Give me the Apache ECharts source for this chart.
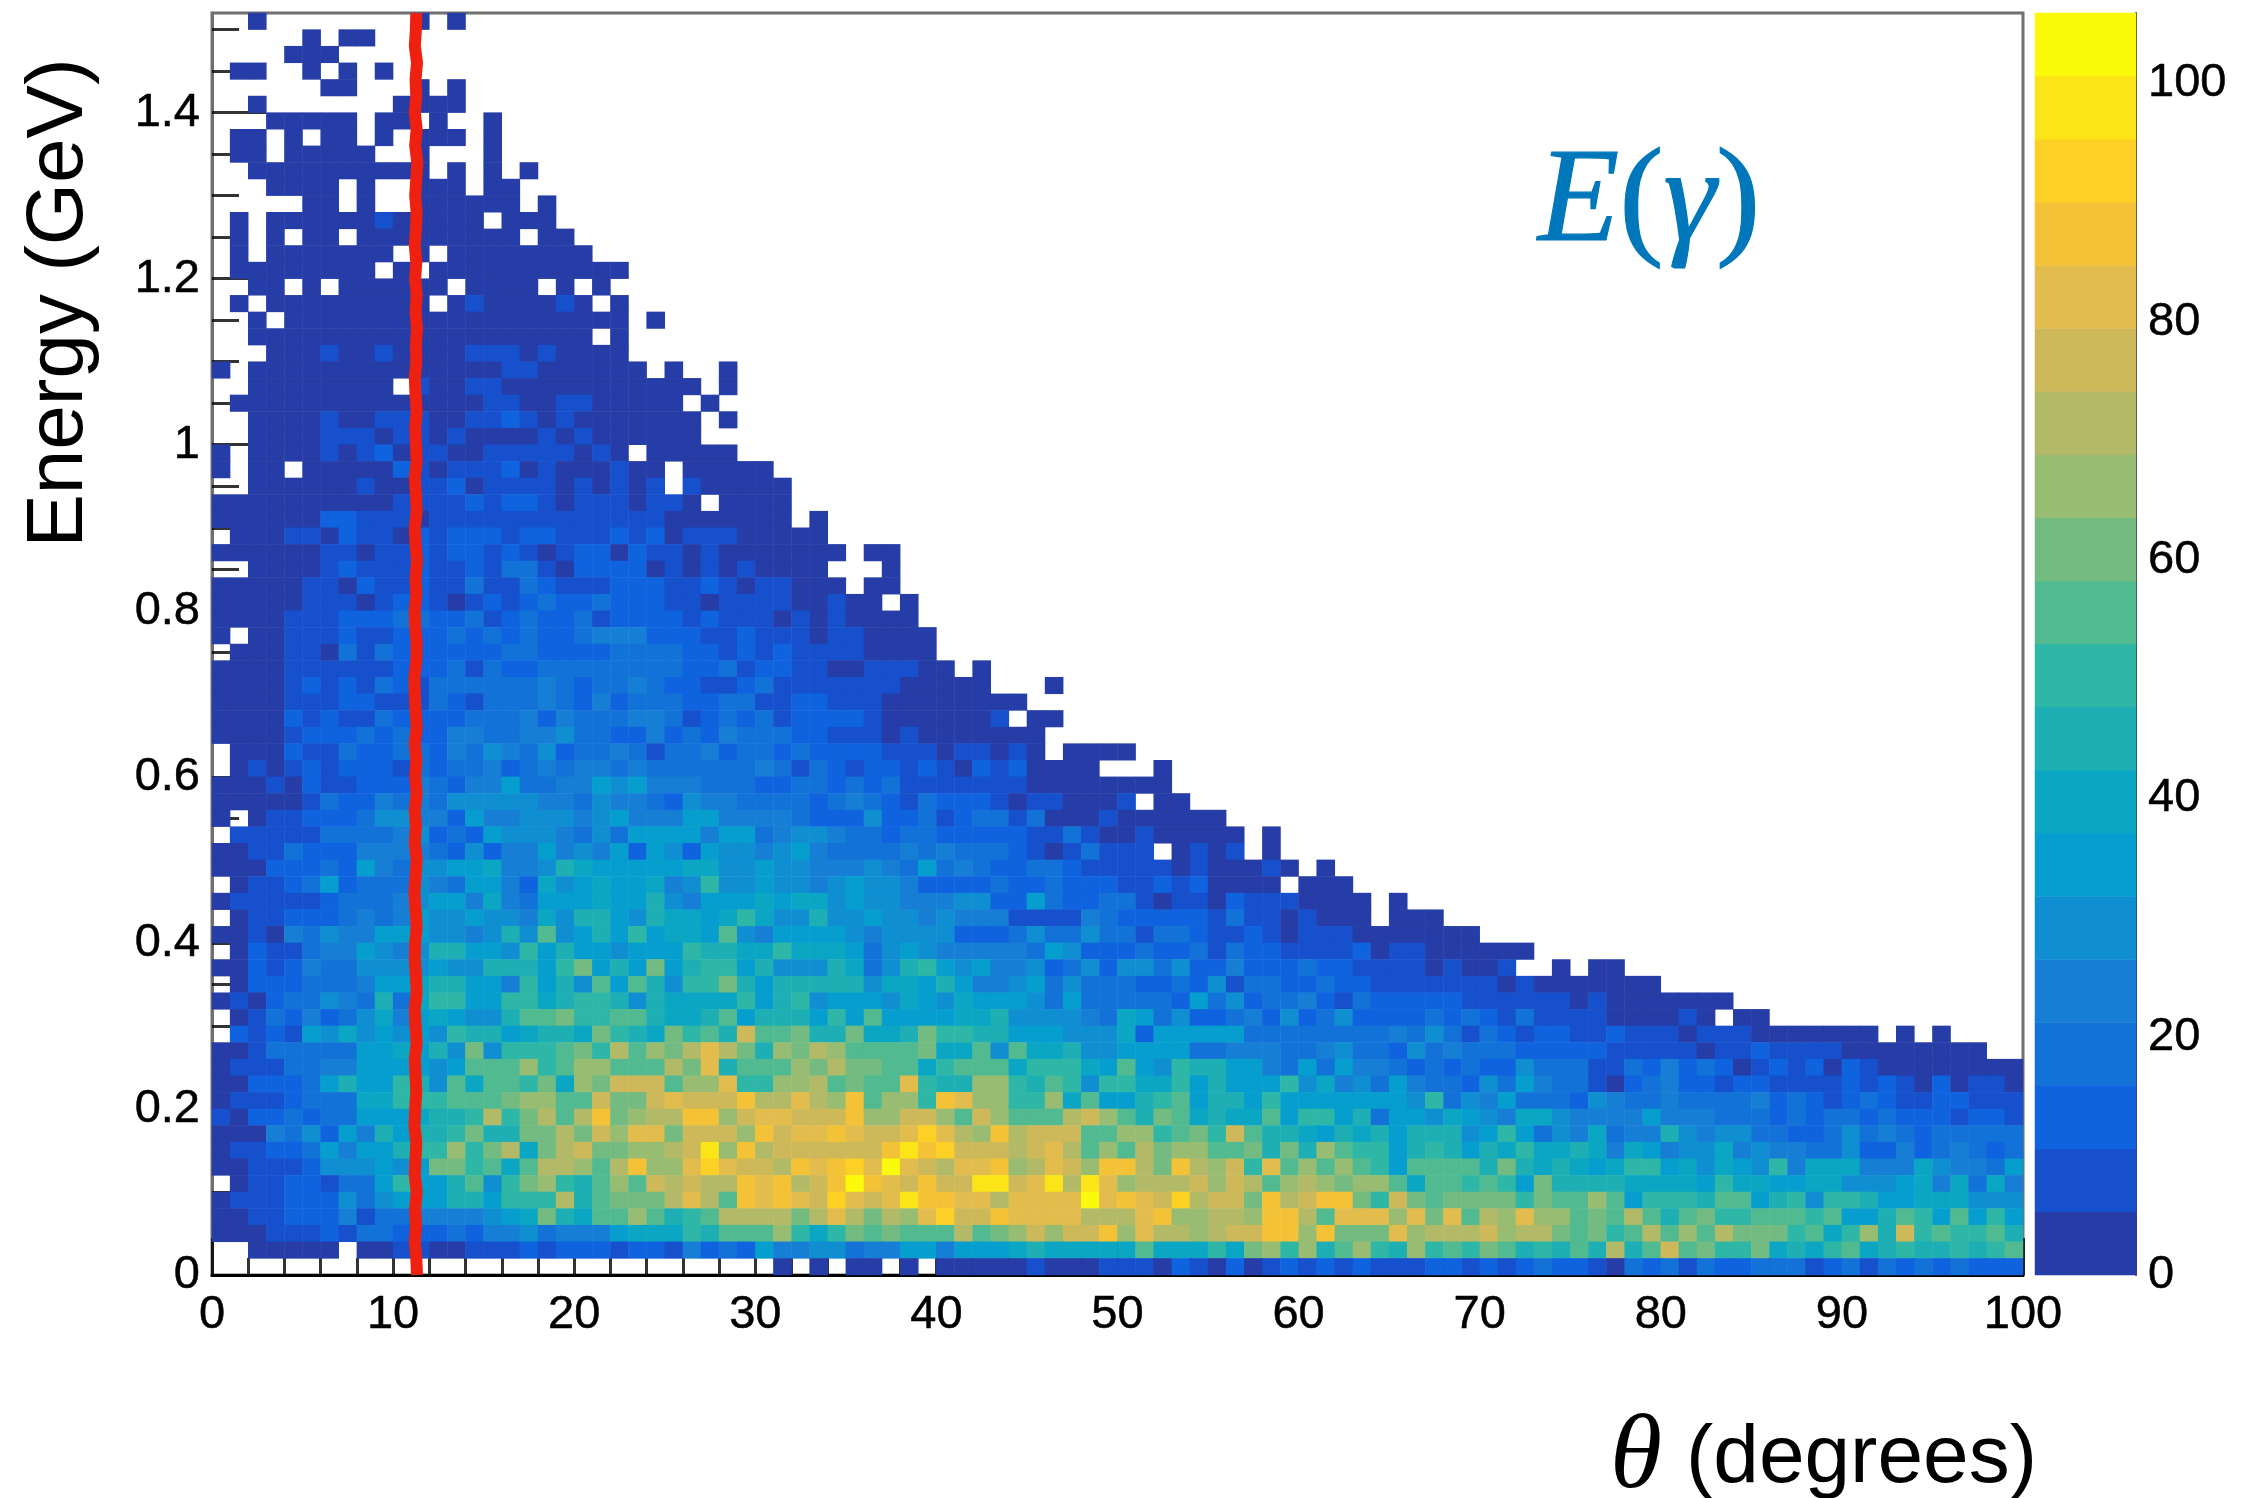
<!DOCTYPE html>
<html>
<head>
<meta charset="utf-8">
<style>html,body{margin:0;padding:0;background:#fff}#c{width:2256px;height:1498px}#c canvas{filter:blur(0.7px)}</style>
<script src="https://cdn.jsdelivr.net/npm/echarts@6/dist/echarts.min.js"></script>
</head>
<body>
<div id="c"></div>
<script>
// Histogram bins. One string per energy row, top row (1.50-1.52 GeV) first.
// Each character is the colour band of one theta bin: '.' empty, 0-9 then a-j for bands 0..19.
// '|' separates blocks of 25 bins; spaces are only for reading.
const bandLevelRows = [
"..0........0.0",
".....0.00",
"....000",
".00..0.0.0",
"......00...0.0",
"..0.......0000",
"...00000.00.0..0",
".00.0.00.0.000.0",
".00.00000..0...0",
"..0000000000.0.0.0",
"...0000.0..000.00",
".....00.0..000000.0",
".0.000000100000.000",
".0.0.00.000000000.00",
".0.0000000.0.00000000",
".00000000.0.00000000000",
"..00.0.000000.0000.0.0",
".0.000000000.01000010.0",
"..0.0000000000000000000.0",
"..0000000000000000000.0",
"...00010010000111010000",
"0.00000000000000 11000000.|0..0",
"..00000000.10011 000000000|00.0",
".00000000000000 110011 0000|0.0",
"..0000 1 00 111 00 11 2 1 0 1 00000|00.0",
"..0000 111 0 11 0 1 0000 1 0 1 0000|00",
"0.0000 1012 0 11 00 11111 0 1 0 . 0|0000",
"0.00.00000 2 1 0 111 2 0 1 000 1 00|.00000",
"..000000 1 00 11 2 0 1111 0 1 0 1 0 1|.100000",
"0000000000 1111 2 1 22 1 0 111 0 1|10.0000",
"000000 22 111 0 1111111111111|0000000.0",
".000 11 0 2 11 0 2 1 222 1 22 111 2 1 2|0111 00000",
"000000 11 0 11 2 1 22 1 2 1 0 1 22 0 2 1|101 0000000 . 00",
"..0000 12 111 2 11 2 1 33 1 0 2222 0|10101 0000 ... 0",
"00000 11 0 2 11 2 11 3 11 3 2 111 222|11210 11 000 . 00",
"00000 111 0 1 22 1 0 1 2 1 2 3 22 3 222|110 1111 00 1 00 . 0",
"0000 111 222 33 22 3 1 2 3 22 3 1 222|212 111 0 1 0 1 0000",
"0 . 00 111 2 11 222 3 2 3 2 3 22 3 444 2|22 11 2 111 0 11 0000",
". 000 11 0 3 1 3 222222 33 2222 333|3 22 1 2 1 2 1111 0000",
"0000 111111 222 3 1 3 22 3333333|3 22 3 1 22 11 00 111 00 . 0",
"0000 1 2 1 2 1 3 2 1 333333 4 3 2 33 4 3|22 11 2 3 1111111 00000 ... 0",
"0000 111 22 111 3 2 1 333 4 3 2 4 2 33|3 22 33 11 22 111 00000000",
"0000 2 1 2 11 3 2222 333 4 2 4 333 4 4|312323 1 2222 1 000000 1 . 00",
"0000 1 222 3 2 3 22 44 33 44 5 33 22 4|2324 333 22 111 0 1 0000000",
". 000 2 11 3 22 33 2 4 3 5 4 3 5 2 33 4 3 1|33 4 2 33 2 3 2222 111 0 11 0 1 0 . 000|0",
". 0 1 0 1 2 1 222 1 3 2 33 4 2 3 4 3 44 3 4 3|33333 4 3 1 3 2 1 22 1 2 1 0 2 1 2 0000 .|..0",
"000 1 0 2 11 222 4 3 2 44 6 33 44 6 5 6 4|44 333 22 33 2 3 2 3 1111111 00000|000",
"00000 1 3 22 4 3 4 3 55555 44 3 5 44 3|2 5 44 3333 2 3 4 3 2 1 3 222 1 0 11 000|1 . 00",
"0 . 0 11 222 3 55 44 2 6 44 555 4 5 6 44|4 66 4444 3 222 5 22 3 1 2 33 1 3 000 1|000000",
". 11111 3333 4 5 2 3 2 6 555 4 3 5 3 66|66 4 66 3 4 55 4 33 2 33 22222 11 3 1 0|0 1 00000 . 0",
"00 11 3 222 4444 3 2 5 2 44 6 4 5 4 6 2 6|5 2 6 55 4 5 6 4 3333 4 3 4 333 2 1 0 1 3 1|11 . 0 1 0 1 . 0",
"000 222 3 2 6 4 3 55 66 7 44 5 8 7 6666|6 77 55 6 55 444 5 4 3 6 3 4 3 22 33 2 11|111 0 1 000 1 0 . 0",
". 0 11 2 3 6 2 333 5 4 3 66 4 2 7 5 6 7 66 7|4 5 9 55 6 55 4 5 6 55 4 2222 3 22 3 222|11 2 1 2 0000 . 000",
"0 11111 2 333 4 5 66 4 7 4 3 666 7 66 8|5 4 666 7 6 77 5 6 55 444 55 22 6 3 22 3|3 1 0 11 0 2 111 0000 . 0",
". 0 11 222 3 4 3 4 6 55 6 55 4 7 5 88 6 5 8|77 6 7 9 7 55 8 55 6 55 4 5 444 1111 4 3|22222 1 3 11 0 1 000 . 000",
"00 1 0 4 3 5 44 666 55 4 5 8 5 a 5 6 8 6 9 6|77 6 a 5 4 6666 5 4 5555 222 3 5 33 5 3|3 1 33 2 11 2 1 0 111 0000000",
". 0 2 11 3 44 6 5 4 5 88 66 5 9 6 8 66 5 66|6 9 88 77 9 777 6 3 5 6 5 44444 3 6 5 22|2 3 2 2 3 1 3 22 1111 2 0 11 000000",
"00 2 1 2 4 33 5555 6 55 888 6 9 b 6 8 6 b|6 8 99 6 8 555 8 7 3 5 8 9 6 5 6 44 5 2 3 5 2|55 3 5 22 4 222 3 22 1111 0 1 00 1 .. 0|. 00",
". 0 222 333 4 66 7 88 66 4 9 6 8 5 a 6 a 8|5 99 b 8 6 88888 5 77 6 8 6 44 5 6 3 5 33|3 22 3 2 5 1 33 22 3 22 111 1111 0 1 00|00000",
"0 1 0 2 33 5 4 3 8 3 7 99 66 99 7 8 99 8 5 8|7777 9 6 8 9 5 666 5 7 6 5 7 666 5 3 6 33|333 2 6 3 5 2 33 4 2 1 3 22222 111111|0 1 0000000",
". 0 1 3 2 4 2 3 5 7 4 6 7 6 55 8 aa b 99 aa 8|77 8 a 6 888 6 9 6 a 6666 77 8 5555 4 3|7 6 3 5 22 3 4 2 5 2 3 5 2222 3 2 3 2 1 3 11|11 0000 1 0 . 00",
". 2 1 2 1 6 5 7 5 6 5 6 5 9 88 6 7 88 7 b 9 8 7|b 9 a 8 e aa b 88 b 77 8 b 99 88 666 555|7 2 66666 33333333 4 3 5 3 1 3 2 1 22|11 2 111 0 111 0000000 . 0 . 0",
"00 1 33333 6 6 7 6 8 5 b 5 999 a b 9 d a c|b d f d b 8 c b d c aaaa b 77 a 5 a 77 8 55|6666 33 4 44 33 4 5 33 2 5 3 4 333 222|22 11111 0 11 2 1111 00000000",
"0 111 33 44 6666 5 6 aaa c 9 a cc aaa|d b f 8 aaa c b d bb aa 7 9 aaa 7 999 7 6|a 6 5 9 88 66 4 3 6 3 6 44 3 2 3 2 3 22 5 33|3 11 3 2 4 2 3 2 0 1 2 1 2 0 2 1 00000000",
"00 222 3 6 8 66 9 8 5 a 7 aa 9 b 7 c b eee|a cc f 99 cc d a b aa f 9 88 cc 9 8 a 9 5 9|9 77 9 6 8 666 9 5 7 4 5 3 6 4 33 2 5 3 6 4 3|3 1 0 2 3 4 22 1 22 1111 2 1 2 1 0 2 0 11 0",
"0 111 2 333 77 999 aaa b cc aa e bb e|f eee g dd f d c g a cc 9 g f cc 99 c 7 a 6|6 8 9 a 6 88 6 9 6666666 5 9 3 5 4 6 333|2 5 4 33 4 3333 4 2 3 2 1 2 3 2 11 22 111",
"1 0 22 3 2 33 666 7 88 9 d 9 b d a d g b c d|d gg c e ff eee g cc ee c a e c aaa d e c|a 8 b a 7 8 77 a 6 99 6 8 3 66 5 7 6 5 4 77 5|4444 6 444 333 2 3 2 33 2 3 222 1 22 1",
"000 4 3 5 2 6 4 8 6 88 9 b 88 bb d b e c ff|b eee c g e ff g f ee f h f d c g d eee aa|cc 9 a b 9 e a 88 7 6 8 7 8 6 888 5 6 9 6 3 5|4 7 3 44 8 5 4 55 33 22 3 5 3 4 3 2 33333",
"0 11 22 3 6 4 66 8 99 c 9 b d 7 b d e bb cc|d e i c g d eeeeee g i g h eee d e f d a c|a d b cc aa b 8 b 8 c a 99 6 8 9 8 6 8 7 9 77|8 7 4 7 6 4 55 7 4 5 44 33 5 22 4 2 3 4 3 2 3",
"00 111 2 555 6 5 6 bb 9 a 7 a dd c a d g c|c f h f ee d g f g h f j f e d ff g c d f e c g|g d b g d c e 9 f a c a c a 9 6 aaaa 8 b 8 7 8|7 6 7 99 6 7 5 7 6 5 9 4 777 444 7 5 44 3 6",
". 0 11 22 1 33 6 9 66 8 a 5 9 b c 9 8 a c a e|d e dd g f g d e g j g f e g ee ii e f i d i f|c ddd e c e d a c d c b cc a 7 aa 9 a 9 6 b 8|888 7777 6 9 77 66 77 555 6 7 4 7 3 7 4",
"0 111 222 5 3 5 666 88 6 999 d 8 a bbb|d f d a g f g f e h f e f i gg ff d ffff j f|g f e h d ee b g d e gg b 9 e b a bbbb 9 b a|a c a 6 999 8 aa 6 8 9 5 99 8 66 777 555",
"00 11 222 4 1 33 4444 5 6 7 b 8 7 aa c a|8 9 a dddd b d f d b d c f h ee g ffff dd|d f g cc dd c gg d a fff c f b f a d c f cc|a b a d a 8 a b 99 aaa 9 a 66 8 a 9 6 a 6 9 6",
"000 111 2 1 33 222 3 2 44 5 3 444 6 77|7 9 8 aaa c 9 7 9 b a b aaa d a b c e c ee g|c f dd c d ee gg c g bbb f c ddd e c dd b|a b 9 a d a c a d bbb 9 a 7 9 c 8 e 9 a 99 a 8",
"..00000.00110011121222122|1 4 2 3 2 6 44 55 3 44 66 4 666 7 8 77 77|7 a 777 9 7 b c 9 c 8 a c 9 8 c 9 a 9 b a 8 9 8|a 8 d 8 a e a b 99 b 7 8 7 9 a 7 8 9 88 9 8 9 a",
"|...... 0 . 0 . 00 . 0 . 00000 1 000 1|11 0 2 1 0 2 0 1 2 1 2 1 2 111 22 1 2 1 2 3 2|2 1 0 3 2 3 1 3 22 333 1 2 3 1 3 2 3 2 3 2 22"
];
// Colours of the scale's bands, low to high, and the scale's top value.
const bandColors = ["#263CA6","#1650CC","#0F63DF","#1272D8","#167FD5","#0F8FD2","#059ECE","#0AA6C4","#1EAFB5","#2EB7A7","#52BA91","#73BB80","#98BC72","#B2BA68","#CDB95A","#E2BC4C","#F4C236","#FDD026","#FBE519","#FAFA0A"];
const colorScaleMax = 105.9;
const energyMajorTicks = [0,0.2,0.4,0.6,0.8,1,1.2,1.4];
const energyMinorTicks = [0.05,0.1,0.15,0.25,0.3,0.35,0.45,0.5,0.55,0.65,0.7,0.75,0.85,0.9,0.95,1.05,1.1,1.15,1.25,1.3,1.35,1.45,1.5];
const colorBarLabels = [0,20,40,60,80,100];
const colorBarTicks = [20,40,60,80,100];
// Thick red line near theta = 11.3 deg, with its small wobble, one point every 0.02 GeV.
const redLineEnergy = [0,0.02,0.04,0.06,0.08,0.1,0.12,0.14,0.16,0.18,0.2,0.22,0.24,0.26,0.28,0.3,0.32,0.34,0.36,0.38,0.4,0.42,0.44,0.46,0.48,0.5,0.52,0.54,0.56,0.58,0.6,0.62,0.64,0.66,0.68,0.7,0.72,0.74,0.76,0.78,0.8,0.82,0.84,0.86,0.88,0.9,0.92,0.94,0.96,0.98,1,1.02,1.04,1.06,1.08,1.1,1.12,1.14,1.16,1.18,1.2,1.22,1.24,1.26,1.28,1.3,1.32,1.34,1.36,1.38,1.4,1.42,1.44,1.46,1.48,1.5,1.52];
const redLineTheta = [11.32,11.28,11.2,11.26,11.22,11.3,11.2,11.24,11.28,11.18,11.22,11.28,11.24,11.2,11.3,11.24,11.2,11.3,11.26,11.2,11.22,11.3,11.24,11.18,11.24,11.3,11.2,11.26,11.2,11.3,11.22,11.28,11.2,11.3,11.24,11.2,11.18,11.28,11.3,11.22,11.2,11.28,11.24,11.32,11.24,11.2,11.3,11.26,11.2,11.3,11.26,11.22,11.3,11.24,11.2,11.28,11.26,11.32,11.24,11.3,11.22,11.28,11.2,11.26,11.3,11.22,11.28,11.34,11.22,11.3,11.2,11.28,11.24,11.32,11.2,11.26,11.28];

const BAND = colorScaleMax / bandColors.length;
const nX = 100, nY = 76;
const cells = [];
bandLevelRows.forEach((row, t) => {
  const s = row.split('|').map(b => b.replace(/ /g, '').padEnd(25, '.')).join('');
  for (let i = 0; i < nX && i < s.length; i++) {
    if (s[i] === '.') continue;
    cells.push([i, nY - 1 - t, (parseInt(s[i], 36) + 0.5) * BAND]);
  }
});
const bandCells = bandColors.map((_, k) => [0, k, (k + 0.5) * BAND]);
const pieces = bandColors.map((color, k) => ({ gte: k * BAND, lt: (k + 1) * BAND, color }));

const FONT = 'Liberation Sans';
const SERIF = 'Liberation Serif';
const tickBlack = 'rgba(0,0,0,0.8)';
const label = { fontFamily: FONT, fontSize: 47, color: '#000', textBorderColor: '#000', textBorderWidth: 0.5 };

const chart = echarts.init(document.getElementById('c'), null, { renderer: 'canvas' });
chart.setOption({
  animation: false,
  backgroundColor: '#fff',
  grid: [
    { left: 212, top: 13, width: 1811, height: 1262, show: true, borderColor: '#707070', borderWidth: 3, backgroundColor: 'transparent' },
    { left: 2035, top: 13, width: 101, height: 1262 }
  ],
  xAxis: [
    { type: 'category', gridIndex: 0, show: false, data: Array.from({length: nX}, (_, i) => i) },
    { type: 'value', gridIndex: 0, position: 'bottom', min: 0, max: 100, interval: 10,
      axisLine: { show: true, onZero: false, lineStyle: { color: '#000', width: 3 } },
      axisTick: { show: true, inside: true, length: 37, lineStyle: { color: tickBlack, width: 3 } },
      minorTick: { show: true, splitNumber: 5, length: 17, lineStyle: { color: tickBlack, width: 3 } },
      splitLine: { show: false },
      axisLabel: { ...label, margin: 17, formatter: v => String(v), showMinLabel: true, showMaxLabel: true, hideOverlap: false } },
    { type: 'category', gridIndex: 1, show: false, data: [0] }
  ],
  yAxis: [
    { type: 'category', gridIndex: 0, show: false, data: Array.from({length: nY}, (_, j) => j) },
    { type: 'value', gridIndex: 0, position: 'left', min: 0, max: 1.52,
      axisLine: { show: true, onZero: false, lineStyle: { color: '#707070', width: 3 } },
      axisTick: { show: true, inside: true, length: 54, customValues: energyMajorTicks, lineStyle: { color: tickBlack, width: 3 } },
      splitLine: { show: false },
      axisLabel: { ...label, margin: 12, padding: [12, 0, 0, 0], customValues: energyMajorTicks, formatter: v => String(v) } },
    { type: 'value', gridIndex: 0, position: 'left', min: 0, max: 1.52,
      axisLine: { show: false },
      axisTick: { show: true, inside: true, length: 27, customValues: energyMinorTicks, lineStyle: { color: tickBlack, width: 3 } },
      splitLine: { show: false },
      axisLabel: { show: false } },
    { type: 'category', gridIndex: 1, show: false, data: bandColors.map((_, k) => k) },
    { type: 'value', gridIndex: 1, position: 'right', min: 0, max: colorScaleMax,
      axisLine: { show: true, onZero: false, lineStyle: { color: 'rgba(0,0,0,0.75)', width: 2 } },
      axisTick: { show: true, inside: true, length: 53, customValues: colorBarTicks, lineStyle: { color: tickBlack, width: 3 } },
      splitLine: { show: false },
      axisLabel: { ...label, margin: 12, padding: [12, 0, 0, 0], customValues: colorBarLabels, formatter: v => String(v) } }
  ],
  visualMap: { type: 'piecewise', show: false, seriesIndex: [0, 1], dimension: 2, pieces },
  series: [
    { type: 'heatmap', name: 'E(gamma)', xAxisIndex: 0, yAxisIndex: 0, data: cells, progressive: 0, z: 1 },
    { type: 'heatmap', name: 'colour scale', xAxisIndex: 2, yAxisIndex: 3, data: bandCells, progressive: 0, z: 1 },
    { type: 'line', name: 'red line', xAxisIndex: 1, yAxisIndex: 1, showSymbol: false, clip: false, z: 5,
      lineStyle: { color: '#EE2010', width: 12 },
      data: redLineEnergy.map((e, k) => [redLineTheta[k], e]) }
  ],
  graphic: [
    { type: 'text', x: 60, y: 303, rotation: Math.PI / 2, z: 10,
      style: { text: 'Energy (GeV)', fontFamily: FONT, fontSize: 80, fill: '#000', align: 'center', verticalAlign: 'middle' } },
    { type: 'text', x: 1610, y: 1459, z: 10,
      style: { text: 'θ', fontFamily: SERIF, fontStyle: 'italic', fontSize: 106, fill: '#000', align: 'left', verticalAlign: 'middle' } },
    { type: 'text', x: 1686, y: 1459, z: 10,
      style: { text: '(degrees)', fontFamily: FONT, fontSize: 82, fill: '#000', align: 'left', verticalAlign: 'middle' } },
    { type: 'text', x: 1538, y: 205, z: 10,
      style: { text: '{i|E}{u|(}{i|γ}{u|)}', fill: '#0077BB', stroke: '#0077BB', lineWidth: 1.2, align: 'left', verticalAlign: 'middle',
        rich: {
          i: { fontFamily: SERIF, fontStyle: 'italic', fontSize: 133, fill: '#0077BB', stroke: '#0077BB', lineWidth: 1.2 },
          u: { fontFamily: SERIF, fontSize: 133, fill: '#0077BB', stroke: '#0077BB', lineWidth: 1.2 }
        } } }
  ]
});
</script>
</body>
</html>
